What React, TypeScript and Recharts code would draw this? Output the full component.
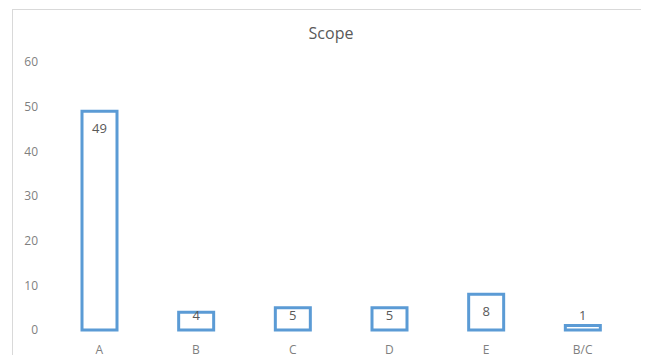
import React from 'react';
import { BarChart, Bar, XAxis, YAxis, LabelList } from 'recharts';

const categories = ['A', 'B', 'C', 'D', 'E', 'B/C'];
const scopeValues = [49, 4, 5, 5, 8, 1];
const yTicks = [0, 10, 20, 30, 40, 50, 60];

const data = categories.map((name, i) => ({ name, value: scopeValues[i] }));

const FONT = '"Open Sans", "Liberation Sans", sans-serif';

// Excel-style "inside end" label, kept above the baseline area for tiny bars
function InsideEndLabel(props: any) {
    const { x, y, width, value } = props;
    const cy = Math.min(y + 17, 315);
    return (
        <text
            x={x + width / 2}
            y={cy}
            textAnchor="middle"
            dominantBaseline="central"
            fill="#595959"
            fontSize={13}
            fontFamily={FONT}
        >
            {value}
        </text>
    );
}

export default function App() {
    return (
        <div style={{ margin: -8, width: 649, height: 363, position: 'relative', overflow: 'hidden', background: '#fff' }}>
            <div
                style={{
                    position: 'absolute',
                    left: 12,
                    top: 9,
                    width: 700,
                    height: 400,
                    border: '1px solid #d9d9d9',
                }}
            />
            <div
                style={{
                    position: 'absolute',
                    left: 0,
                    width: 662,
                    top: 22,
                    textAlign: 'center',
                    fontFamily: FONT,
                    fontSize: 16,
                    color: '#595959',
                }}
            >
                Scope
            </div>
            <div style={{ position: 'absolute', left: 0, top: 0 }}>
                <BarChart width={649} height={363} data={data} margin={{ top: 62, right: 18, left: 0, bottom: 3 }}>
                    <XAxis
                        dataKey="name"
                        axisLine={false}
                        tickLine={false}
                        tickMargin={9}
                        tick={{ fill: '#7f7f7f', fontSize: 12, fontFamily: FONT }}
                    />
                    <YAxis
                        width={51}
                        domain={[0, 60]}
                        ticks={yTicks}
                        axisLine={false}
                        tickLine={false}
                        dx={-5}
                        tick={{ fill: '#7f7f7f', fontSize: 12, fontFamily: FONT }}
                    />
                    <Bar
                        dataKey="value"
                        fill="#ffffff"
                        stroke="#5b9bd5"
                        strokeWidth={3}
                        barSize={35}
                        isAnimationActive={false}
                    >
                        <LabelList dataKey="value" content={InsideEndLabel} />
                    </Bar>
                </BarChart>
            </div>
        </div>
    );
}
